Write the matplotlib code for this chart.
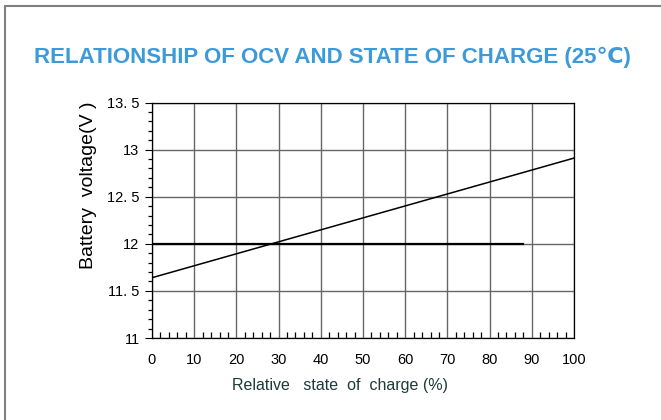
import numpy as np
import matplotlib.pyplot as plt
from matplotlib.patches import Rectangle
from matplotlib.ticker import MultipleLocator

plt.rcParams['font.family'] = ['Liberation Sans', 'DejaVu Sans']

# Data
soc = [0, 100]                      # relative state of charge (%)
ocv = [11.64, 12.91]                # battery voltage (V)
ref_soc = [0, 88]                   # 12 V reference line
ref_v = [12.0, 12.0]

xticks = [0, 10, 20, 30, 40, 50, 60, 70, 80, 90, 100]
yticks = [11, 11.5, 12, 12.5, 13, 13.5]
ytick_labels = ["11", "11. 5", "12", "12. 5", "13", "13. 5"]

fig = plt.figure(figsize=(6.61, 4.2), dpi=100)

# grey frame around the page
fig.patches.append(Rectangle((5 / 661, -0.1), 1.2, (420 - 6) / 420 + 0.1,
                             transform=fig.transFigure, fill=False,
                             edgecolor='#808080', linewidth=1.5))

fig.text(0.503, 1 - 57 / 420, "RELATIONSHIP OF OCV AND STATE OF CHARGE (25℃)",
         ha='center', va='center', fontsize=16, fontweight='bold',
         color='#3d9ad8', family=['Liberation Sans', 'DejaVu Sans'])

ax = fig.add_axes([152 / 661, (420 - 338) / 420, 422 / 661, 235.5 / 420])

ax.plot(soc, ocv, color='black', linewidth=1.1)
ax.plot(ref_soc, ref_v, color='black', linewidth=1.6)

ax.set_xlim(0, 100)
ax.set_ylim(11, 13.5)
ax.set_xticks(xticks)
ax.set_yticks(yticks)
ax.set_yticklabels(ytick_labels)
ax.xaxis.set_minor_locator(MultipleLocator(2))
ax.yaxis.set_minor_locator(MultipleLocator(0.1))

ax.grid(True, which='major', color='#666666', linewidth=1)
ax.tick_params(axis='x', which='major', direction='in', length=0, pad=11,
               labelsize=10.5)
ax.tick_params(axis='x', which='minor', direction='in', length=4, width=0.9)
ax.tick_params(axis='y', which='major', direction='out', length=5, pad=4,
               labelsize=10.5)
ax.tick_params(axis='y', which='minor', direction='out', length=3, width=0.9)

for s in ax.spines.values():
    s.set_linewidth(0.9)

ax.set_xlabel("Relative   state  of  charge (%)", fontsize=11.5,
              color='#1c3c38')
ax.xaxis.set_label_coords((340 - 152) / 422, -0.17)
ax.set_ylabel("Battery  voltage(V )", fontsize=14)
ax.yaxis.set_label_coords(-0.13, 0.65)

fig.savefig("out.png", dpi=100)
